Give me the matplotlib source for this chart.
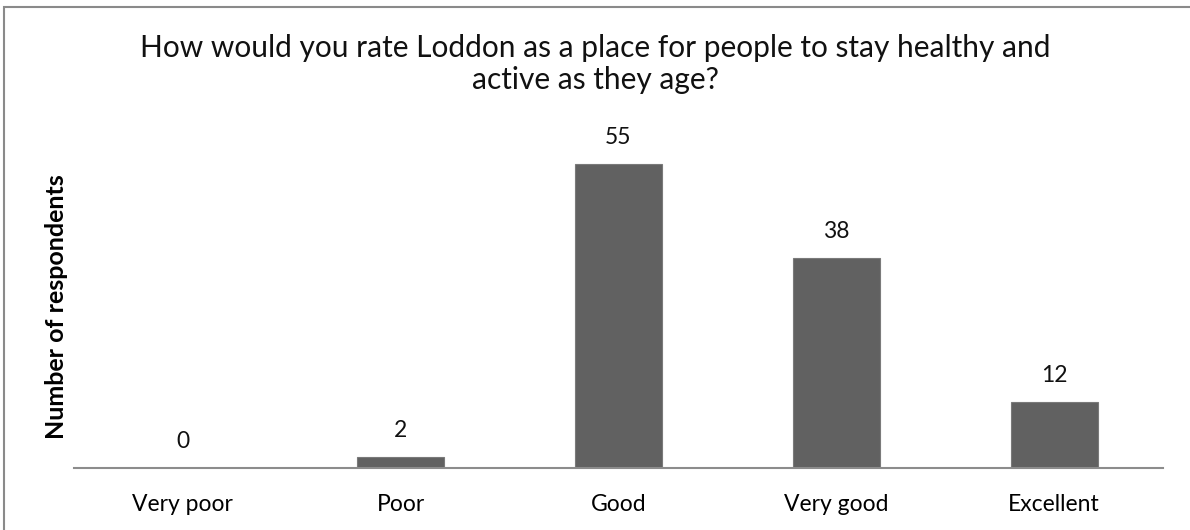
import matplotlib
matplotlib.use("Agg")
import matplotlib.pyplot as plt
from matplotlib.patches import Rectangle

categories = ["Very poor", "Poor", "Good", "Very good", "Excellent"]
values = [0, 2, 55, 38, 12]
title = "How would you rate Loddon as a place for people to stay healthy and\nactive as they age?"
ylabel = "Number of respondents"

plt.rcParams['font.family'] = ['Lato', 'DejaVu Sans']

fig = plt.figure(figsize=(11.9, 5.3), dpi=100)
ax = fig.add_axes([74/1190, 1-468/530, (1163-74)/1190, 332/530])

x = list(range(len(categories)))
bars = ax.bar(x, values, width=0.4, color="#616161", edgecolor="#7a7a7a", linewidth=0.8)
ax.set_xlim(-0.5, len(categories)-0.5)
ax.set_ylim(0, 60)
for xi, v in zip(x, values):
    ax.text(xi, v + 4.8, str(v), ha="center", va="center", fontsize=16.5, color="#111111")

ax.set_xticks(x)
ax.set_xticklabels(categories, fontsize=16.5)
ax.tick_params(axis="x", length=0, pad=19)
ax.set_yticks([])
for s in ["top", "right", "left"]:
    ax.spines[s].set_visible(False)
ax.spines["bottom"].set_color("#8c8c8c")
ax.spines["bottom"].set_linewidth(1.5)

fig.text(0.5, 1-64/530, title, ha="center", va="center", fontsize=21.5, linespacing=1.2, color="#111111")
fig.text(57/1190, 1-307/530, ylabel, ha="center", va="center", rotation=90, fontsize=18, fontweight="bold")

fig.patches.append(Rectangle((3.5/1190, -0.1), 1.2, 1.1 - 6.5/530, transform=fig.transFigure,
                             fill=False, edgecolor="#8a8a8a", linewidth=1.5))

fig.savefig("out.png", dpi=100)
